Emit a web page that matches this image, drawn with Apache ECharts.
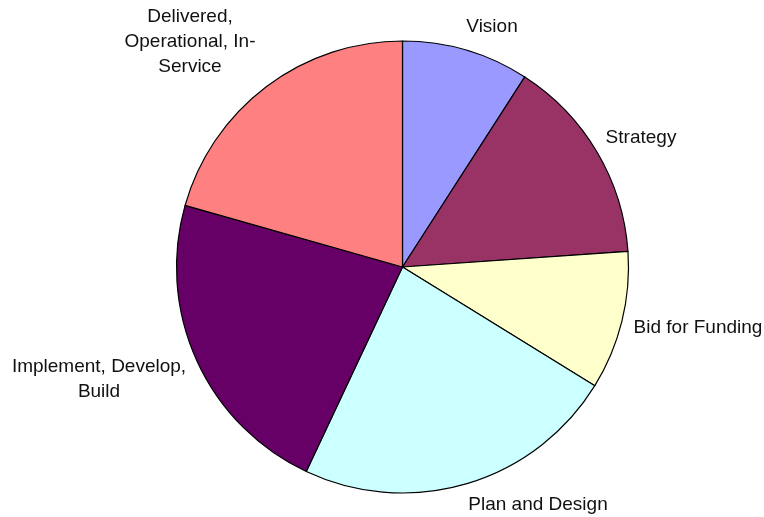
<!DOCTYPE html>
<html>
<head>
<meta charset="utf-8">
<script src="https://cdn.jsdelivr.net/npm/echarts@6/dist/echarts.min.js"></script>
<style>
  html, body { margin: 0; padding: 0; background: #fff; }
  #chart { width: 764px; height: 517px; }
</style>
</head>
<body>
<div id="chart"></div>
<script>
// Project stage breakdown (share of portfolio, %)
const stages = [
  'Vision',
  'Strategy',
  'Bid for Funding',
  'Plan and Design',
  'Implement, Develop,\nBuild',
  'Delivered,\nOperational, In-\nService'
];
const shares = [9.1, 14.8, 9.9, 23.2, 22.4, 20.6];
const sliceColors = ['#9999FF', '#993366', '#FFFFCC', '#CCFFFF', '#660066', '#FF8080'];

// Label anchor points (text centre) for each slice
const labelAnchors = [
  [492, 27], [641, 138], [698, 328], [538, 505], [99, 379], [190, 42]
];

const chart = echarts.init(document.getElementById('chart'), null, { renderer: 'canvas' });

chart.setOption({
  animation: false,
  backgroundColor: '#ffffff',
  series: [{
    type: 'pie',
    center: [402.5, 267],
    radius: [0, 226],
    startAngle: 90,
    clockwise: true,
    avoidLabelOverlap: false,
    data: stages.map((name, i) => ({
      name,
      value: shares[i],
      itemStyle: { color: sliceColors[i] }
    })),
    itemStyle: { borderColor: '#000000', borderWidth: 1.2 },
    label: {
      show: true,
      position: 'outside',
      formatter: '{b}',
      fontFamily: 'Liberation Sans, Arial, sans-serif',
      fontSize: 19,
      lineHeight: 25,
      color: '#111111',
      align: 'center'
    },
    labelLine: { show: false },
    labelLayout: function (params) {
      const p = labelAnchors[params.dataIndex];
      return { x: p[0], y: p[1], align: 'center', verticalAlign: 'middle' };
    },
    emphasis: { disabled: true }
  }]
});
</script>
</body>
</html>
